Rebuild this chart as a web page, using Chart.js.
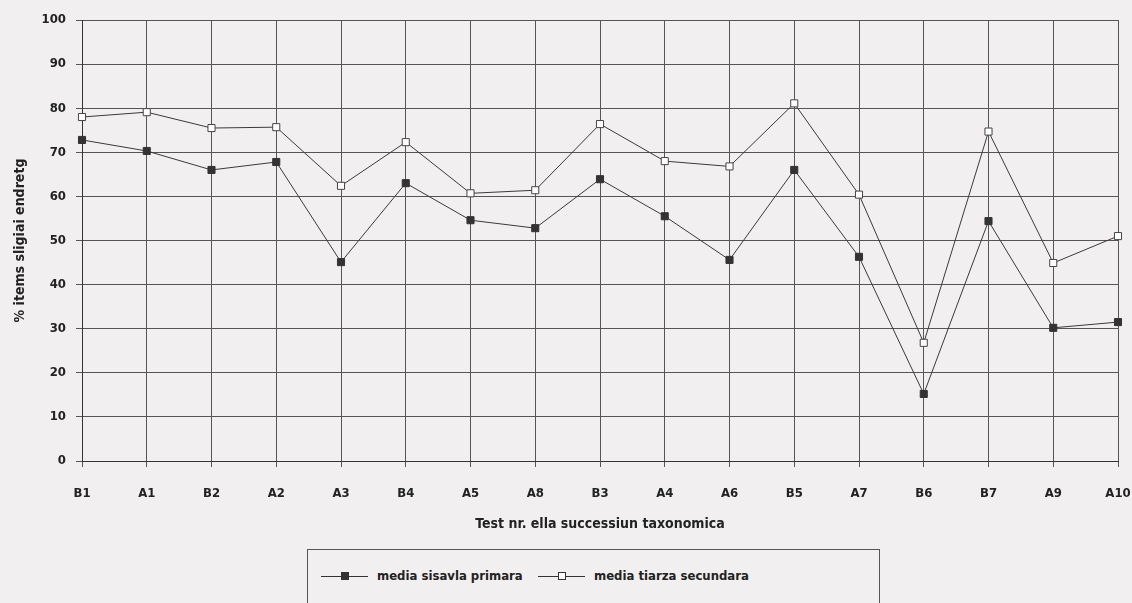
<!DOCTYPE html>
<html>
<head>
<meta charset="utf-8">
<script src="https://cdn.jsdelivr.net/npm/chart.js@4"></script>
<style>
  html, body { margin: 0; padding: 0; background: #f1efef; }
  #wrap { position: relative; width: 1132px; height: 603px; overflow: hidden; }
  #box { position: absolute; left: 0; top: 0; width: 1132px; height: 545px; }
  #legenda {
    position: absolute; left: 307px; top: 549px; width: 573px; height: 70px;
    border: 1px solid #555; box-sizing: border-box;
    font-family: "DejaVu Sans Condensed", "DejaVu Sans", sans-serif; font-weight: bold;
    font-size: 13px; color: #222;
  }
  .item { position: absolute; top: 18px; height: 16px; line-height: 16px; }
  .linea { position: absolute; top: 8px; width: 47px; height: 1px; background: #333; }
  .mk { position: absolute; top: 4px; left: 20px; width: 8px; height: 8px; box-sizing: border-box; border: 1px solid #333; }
  .txt { position: absolute; left: 56px; white-space: nowrap; }
</style>
</head>
<body>
<div id="wrap">
  <div id="box"><canvas id="grafica"></canvas></div>
  <div id="legenda">
    <div class="item" style="left:13px"><div class="linea"></div><div class="mk" style="background:#333"></div><span class="txt">media sisavla primara</span></div>
    <div class="item" style="left:230px"><div class="linea"></div><div class="mk" style="background:#fff"></div><span class="txt">media tiarza secundara</span></div>
  </div>
</div>
<script>
// ========== DATOS ===================
const categorias = ["B1","A1","B2","A2","A3","B4","A5","A8","B3","A4","A6","B5","A7","B6","B7","A9","A10"];
const mediaPrimara = [72.8, 70.3, 66.0, 67.8, 45.1, 63.0, 54.6, 52.8, 63.9, 55.5, 45.6, 66.0, 46.3, 15.2, 54.4, 30.2, 31.5];
const mediaSecundara = [78.0, 79.1, 75.5, 75.7, 62.4, 72.3, 60.7, 61.4, 76.4, 68.0, 66.8, 81.1, 60.4, 26.8, 74.7, 44.9, 51.0];

const FONT = "'DejaVu Sans Condensed', 'DejaVu Sans', sans-serif";
const GRIS = "#3a3a3a";

// ---- tamaños fijos de ejes (para que el area quede como en el original) ----
function fijarY(s){ s.width = 82; s.paddingTop = 0; s.paddingBottom = 0; }
function fijarX(s){ s.height = 84; s.paddingLeft = 0; s.paddingRight = 0; }

// ========== GRAFICA ==========
function graficar(){
  const ctx = document.getElementById("grafica");
  new Chart(ctx, {
    type: "line",
    data: {
      labels: categorias,
      datasets: [
        { label: "media sisavla primara", data: mediaPrimara, borderColor: GRIS, borderWidth: 1,
          pointStyle: "rect", pointRadius: 5, pointBackgroundColor: "#333", pointBorderColor: "#333", pointBorderWidth: 1, tension: 0 },
        { label: "media tiarza secundara", data: mediaSecundara, borderColor: GRIS, borderWidth: 1,
          pointStyle: "rect", pointRadius: 5, pointBackgroundColor: "#fff", pointBorderColor: "#444", pointBorderWidth: 1, tension: 0 }
      ]
    },
    options: {
      responsive: true, maintainAspectRatio: false, animation: false,
      layout: { padding: { left: 0, right: 14, top: 20, bottom: 0 } },
      plugins: { legend: { display: false }, tooltip: { enabled: false } },
      scales: {
        x: {
          afterFit: fijarX,
          grid: { color: "#555", lineWidth: 1, tickLength: 6, drawTicks: true },
          border: { color: "#333" },
          ticks: { color: "#222", font: { family: FONT, weight: "bold", size: 13 }, padding: 19, maxRotation: 0, autoSkip: false },
          title: { display: true, text: "Test nr. ella successiun taxonomica", color: "#222",
                   font: { family: FONT, weight: "bold", size: 14 }, padding: { top: 0, bottom: 12 } }
        },
        y: {
          min: 0, max: 100,
          afterFit: fijarY,
          grid: { color: "#555", lineWidth: 1, tickLength: 6 },
          border: { color: "#333" },
          ticks: { stepSize: 10, color: "#222", font: { family: FONT, weight: "bold", size: 13 }, padding: 10 },
          title: { display: true, text: "% items sligiai endretg", color: "#222",
                   font: { family: FONT, weight: "bold", size: 14 }, padding: { top: 12, bottom: 0 } }
        }
      }
    }
  });
}

window.onload = graficar;
</script>
</body>
</html>
